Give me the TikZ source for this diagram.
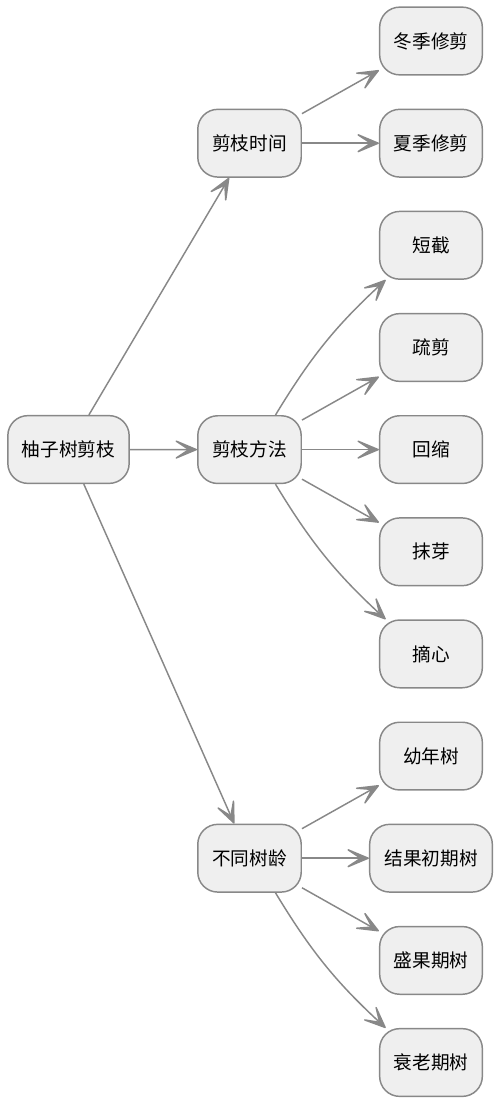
\documentclass[tikz,border=0pt]{standalone}
\usepackage{fontspec}
\setmainfont{Noto Sans CJK SC}
\usetikzlibrary{arrows.meta}
\definecolor{edgegray}{HTML}{888888}
\definecolor{boxfill}{HTML}{EFEFEF}
\tikzset{
  box/.style={draw=edgegray, line width=1.1pt, fill=boxfill, rounded corners=15pt,
    minimum height=50.8pt, inner sep=0pt, text=black,
    font=\fontsize{14pt}{16pt}\selectfont},
  rootbox/.style={box, minimum width=91pt},
  midbox/.style={box, minimum width=77.6pt},
  leafbox/.style={box, minimum width=77pt},
  wideleaf/.style={box, minimum width=92pt},
  link/.style={draw=edgegray, line width=1.1pt,
    -{Stealth[length=21.5pt,width=18pt,inset=13.5pt,round]}},
}
\begin{document}
\begin{tikzpicture}[x=0.75pt,y=-0.75pt]
\useasboundingbox (0,0) rectangle (500,1104);
\node[rootbox] (root) at (68.5,449.5) {柚子树剪枝};
\node[midbox] (t1) at (249.5,143.2) {剪枝时间};
\node[midbox] (t2) at (249.5,449.6) {剪枝方法};
\node[midbox] (t3) at (249.5,858.2) {不同树龄};
\node[leafbox] (a1) at (431,41) {冬季修剪};
\node[leafbox] (a2) at (431,143.2) {夏季修剪};
\node[leafbox] (b1) at (431,245.3) {短截};
\node[leafbox] (b2) at (431,347.5) {疏剪};
\node[leafbox] (b3) at (431,449.6) {回缩};
\node[leafbox] (b4) at (431,551.8) {抹芽};
\node[leafbox] (b5) at (431,653.9) {摘心};
\node[leafbox] (c1) at (431,756.1) {幼年树};
\node[wideleaf] (c2) at (431,858.2) {结果初期树};
\node[leafbox] (c3) at (431,960.4) {盛果期树};
\node[leafbox] (c4) at (431,1062.5) {衰老期树};
\draw[link] (root) -- (t1);
\draw[link] (root) -- (t2);
\draw[link] (root) -- (t3);
\draw[link] (t1) -- (a1);
\draw[link] (t1) -- (a2);
\draw[link] ([xshift=19.5pt]t2.north) to[bend left=8] ([xshift=-34pt]b1.south);
\draw[link] (t2) -- (b2);
\draw[link] (t2) -- (b3);
\draw[link] (t2) -- (b4);
\draw[link] ([xshift=19.5pt]t2.south) to[bend right=8] ([xshift=-34pt]b5.north);
\draw[link] (t3) -- (c1);
\draw[link] (t3) -- (c2);
\draw[link] (t3) -- (c3);
\draw[link] ([xshift=19.5pt]t3.south) to[bend right=8] ([xshift=-34pt]c4.north);
\end{tikzpicture}
\end{document}
